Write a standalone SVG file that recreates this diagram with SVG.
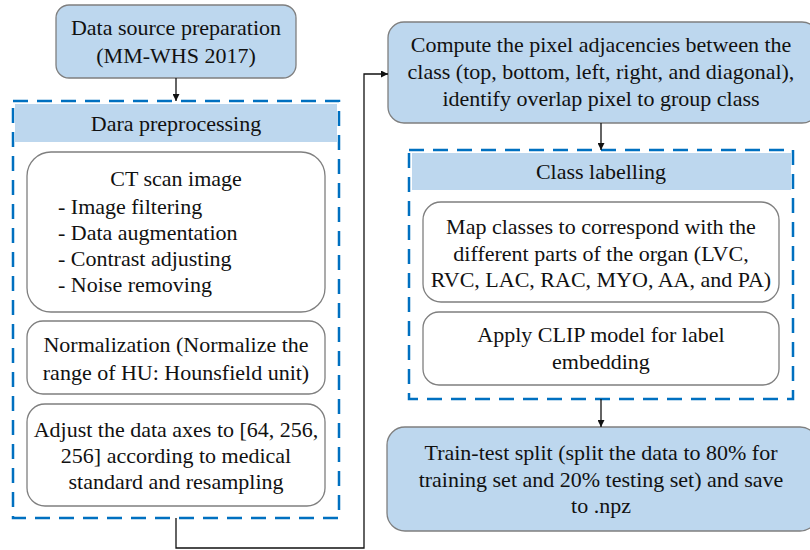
<svg xmlns="http://www.w3.org/2000/svg" width="810" height="550" viewBox="0 0 810 550">
  <style>
    text { font-family: "Liberation Serif", "Times New Roman", serif; font-size: 22px; fill: #111; }
    .c { text-anchor: middle; }
    .blue { fill: #BDD7EE; stroke: #7F7F7F; stroke-width: 1.3; }
    .white { fill: #FFFFFF; stroke: #7F7F7F; stroke-width: 1.3; }
    .group { fill: none; stroke: #0070C0; stroke-width: 2.5; stroke-dasharray: 15 9; }
    .band { fill: #BDD7EE; stroke: none; }
    .wire { fill: none; stroke: #111; stroke-width: 1.3; }
  </style>
  <defs>
    <marker id="arrow" viewBox="0 0 10 10" refX="10" refY="5" markerWidth="7" markerHeight="7" markerUnits="userSpaceOnUse" orient="auto">
      <path d="M0,0 L10,5 L0,10 z" fill="#111"/>
    </marker>
  </defs>

  <rect width="810" height="550" fill="#FFFFFF"/>

  <!-- left column -->
  <g id="source">
    <rect class="blue" x="56" y="5" width="240" height="73" rx="13"/>
    <text class="c" x="176" y="35">Data source preparation</text>
    <text class="c" x="176" y="63">(MM-WHS 2017)</text>
  </g>

  <g id="preprocessing">
    <rect class="band" x="15" y="104" width="322" height="38"/>
    <rect class="group" x="13" y="101" width="326" height="417"/>
    <text class="c" x="176" y="131">Dara preprocessing</text>
  </g>

  <g id="ct-scan">
    <rect class="white" x="27" y="152" width="298" height="160" rx="24"/>
    <text class="c" x="176" y="186">CT scan image</text>
    <text x="58" y="214">- Image filtering</text>
    <text x="58" y="240">- Data augmentation</text>
    <text x="58" y="266">- Contrast adjusting</text>
    <text x="58" y="292">- Noise removing</text>
  </g>

  <g id="normalization">
    <rect class="white" x="27" y="321" width="298" height="73" rx="16"/>
    <text class="c" x="176" y="352">Normalization (Normalize the</text>
    <text class="c" x="176" y="380">range of HU: Hounsfield unit)</text>
  </g>

  <g id="axes">
    <rect class="white" x="27" y="404" width="298" height="102" rx="18"/>
    <text class="c" x="176" y="437">Adjust the data axes to [64, 256,</text>
    <text class="c" x="176" y="463">256] according to medical</text>
    <text class="c" x="176" y="489">standard and resampling</text>
  </g>

  <!-- right column -->
  <g id="adjacency">
    <rect class="blue" x="388" y="22" width="430" height="101" rx="16"/>
    <text class="c" x="601" y="52">Compute the pixel adjacencies between the</text>
    <text class="c" x="601" y="79">class (top, bottom, left, right, and diagonal),</text>
    <text class="c" x="601" y="106">identify overlap pixel to group class</text>
  </g>

  <g id="labelling">
    <rect class="band" x="412" y="153" width="379" height="37"/>
    <rect class="group" x="409" y="150" width="384" height="249"/>
    <text class="c" x="601" y="179">Class labelling</text>
  </g>

  <g id="map-classes">
    <rect class="white" x="423" y="202" width="356" height="100" rx="18"/>
    <text class="c" x="601" y="234">Map classes to correspond with the</text>
    <text class="c" x="601" y="261">different parts of the organ (LVC,</text>
    <text class="c" x="601" y="287">RVC, LAC, RAC, MYO, AA, and PA)</text>
  </g>

  <g id="clip">
    <rect class="white" x="423" y="312" width="356" height="73" rx="16"/>
    <text class="c" x="601" y="342">Apply CLIP model for label</text>
    <text class="c" x="601" y="369">embedding</text>
  </g>

  <g id="split">
    <rect class="blue" x="387" y="427" width="431" height="104" rx="18"/>
    <text class="c" x="601" y="460">Train-test split (split the data to 80% for</text>
    <text class="c" x="601" y="487">training set and 20% testing set) and save</text>
    <text class="c" x="601" y="513">to .npz</text>
  </g>

  <!-- connectors -->
  <g id="connectors">
    <path class="wire" d="M176,78 V101" marker-end="url(#arrow)"/>
    <path class="wire" d="M176,518 V548 H364 V74 H388" marker-end="url(#arrow)"/>
    <path class="wire" d="M601,123 V150" marker-end="url(#arrow)"/>
    <path class="wire" d="M601,399 V427" marker-end="url(#arrow)"/>
  </g>
</svg>
